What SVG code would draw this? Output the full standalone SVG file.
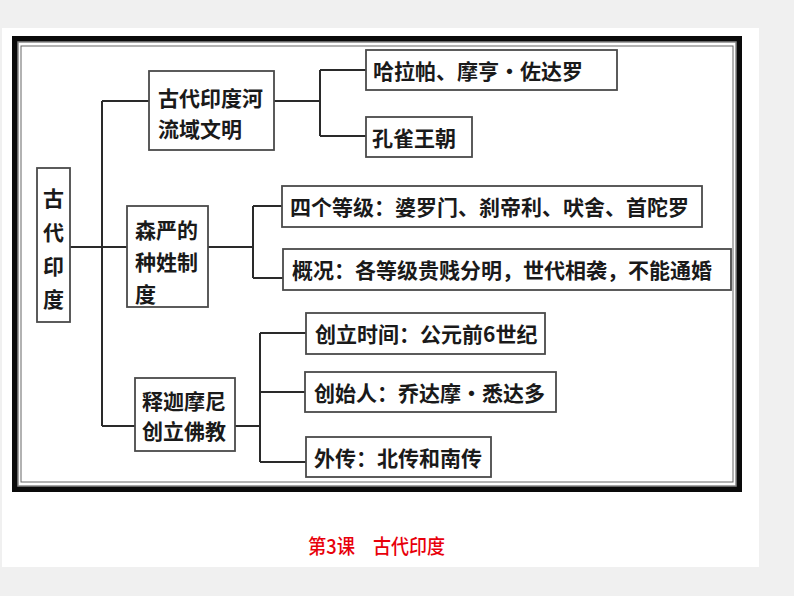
<svg xmlns="http://www.w3.org/2000/svg" width="794" height="596" viewBox="0 0 794 596">
<style>
.t{font-family:"Noto Sans CJK SC","Noto Sans",sans-serif;font-size:21px;font-weight:bold;fill:#1a1a1a;dominant-baseline:central}
.box{fill:#fff;stroke:#4a4a4a;stroke-width:1.8}
.ln{fill:none;stroke:#2a2a2a;stroke-width:2}
.cap{font-family:"Noto Sans CJK SC","Noto Sans",sans-serif;font-size:20px;font-weight:500;fill:#e8000b}
</style>
<rect x="0" y="0" width="794" height="596" fill="#f0f0f0"/>
<rect x="2" y="28" width="757" height="539" fill="#fff"/>
<rect x="12" y="36" width="730" height="456" fill="#0a0a0a"/>
<rect x="18" y="42" width="718" height="444" fill="#fff" stroke="#888" stroke-width="1.5"/>
<rect x="21" y="46" width="712" height="436" fill="#fff" stroke="#666" stroke-width="1"/>
<g id="connectors">
<path class="ln" d="M70,247H127M102,101V426M102,101H149M102,426H135"/>
<path class="ln" d="M274,101H320M320,70V136M320,70H366M320,136H366"/>
<path class="ln" d="M208,247H253M253,206V278M253,206H282M253,278H283"/>
<path class="ln" d="M235,426H260M260,333V462M260,333H306M260,392H305M260,462H306"/>
</g>
<g id="root">
<rect class="box" x="37" y="168" width="33" height="154"/>
<text class="t" x="53.5" y="197" text-anchor="middle">古</text>
<text class="t" x="53.5" y="231" text-anchor="middle">代</text>
<text class="t" x="53.5" y="265" text-anchor="middle">印</text>
<text class="t" x="53.5" y="298" text-anchor="middle">度</text>
</g>
<g id="n-civ">
<rect class="box" x="149" y="71" width="125" height="79"/>
<text class="t" x="158" y="97">古代印度河</text>
<text class="t" x="158" y="128">流域文明</text>
</g>
<g id="n-caste">
<rect class="box" x="127" y="206" width="81" height="101"/>
<text class="t" x="135" y="229">森严的</text>
<text class="t" x="135" y="261">种姓制</text>
<text class="t" x="135" y="293">度</text>
</g>
<g id="n-buddha">
<rect class="box" x="135" y="378" width="100" height="73"/>
<text class="t" x="142" y="400">释迦摩尼</text>
<text class="t" x="142" y="430">创立佛教</text>
</g>
<g id="l-harappa">
<rect class="box" x="366" y="50" width="251" height="40"/>
<text class="t" x="373" y="70">哈拉帕、摩亨·佐达罗</text>
</g>
<g id="l-maurya">
<rect class="box" x="366" y="117" width="106" height="40"/>
<text class="t" x="372" y="137">孔雀王朝</text>
</g>
<g id="l-four">
<rect class="box" x="282" y="186" width="420" height="41"/>
<text class="t" x="290" y="206">四个等级：婆罗门、刹帝利、吠舍、首陀罗</text>
</g>
<g id="l-overview">
<rect class="box" x="283" y="249" width="448" height="41"/>
<text class="t" x="292" y="269">概况：各等级贵贱分明，世代相袭，不能通婚</text>
</g>
<g id="l-time">
<rect class="box" x="306" y="313" width="239" height="41"/>
<text class="t" x="315" y="333">创立时间：公元前6世纪</text>
</g>
<g id="l-founder">
<rect class="box" x="305" y="372" width="251" height="40"/>
<text class="t" x="314" y="392">创始人：乔达摩·悉达多</text>
</g>
<g id="l-spread">
<rect class="box" x="306" y="437" width="185" height="40"/>
<text class="t" x="314" y="457">外传：北传和南传</text>
</g>
<text class="cap" x="308" y="554" textLength="47" lengthAdjust="spacingAndGlyphs">第3课</text>
<text class="cap" x="373" y="554" textLength="72" lengthAdjust="spacingAndGlyphs">古代印度</text>
</svg>
